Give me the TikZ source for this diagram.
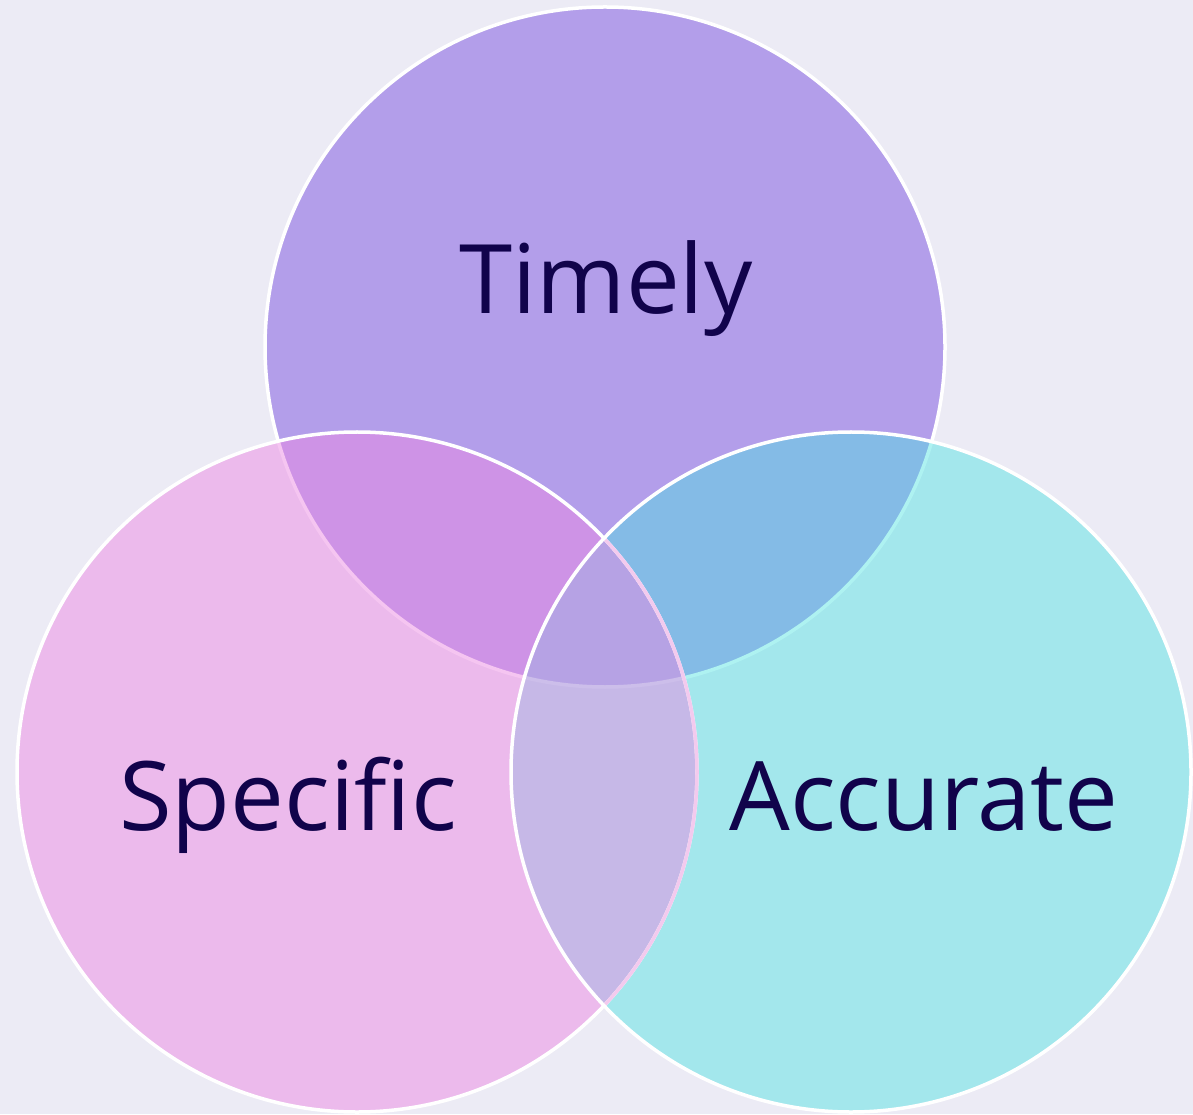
\documentclass[tikz,border=0pt]{standalone}
\usepackage{fontspec}
\setmainfont[Ligatures = NoCommon]{Open Sans}
\usepackage{tikz}
\definecolor{bgcol}{RGB}{236,235,245}
\definecolor{timelycol}{RGB}{179,158,234}
\definecolor{specificcol}{RGB}{236,137,227}
\definecolor{accuratecol}{RGB}{72,226,225}
\definecolor{labelcol}{RGB}{17,3,75}
\definecolor{faintline}{RGB}{243,202,238}
\tikzset{
	ring/.style = {draw = white, line width = 0.035cm},
	word/.style = {draw = none, anchor = base, text = labelcol, inner sep = 0pt, font = \fontsize{27.3}{33}\selectfont}
}

\begin{document}
\begin{tikzpicture}
		% Background
		\fill [bgcol] (0,0) rectangle (11.93,11.14);
		\useasboundingbox (0,0) rectangle (11.93,11.14);
		% Circle centres
		\coordinate (timelyc) at (6.05,7.67);
		\coordinate (specificc) at (3.57,3.42);
		\coordinate (accuratec) at (8.51,3.42);
		% Timely circle
		\draw [ring, fill = timelycol] (timelyc) circle (3.40);
		% Accurate circle
		\fill [accuratecol, fill opacity = 0.44] (accuratec) circle (3.40);
		% Specific circle
		\fill [specificcol, fill opacity = 0.49] (specificc) circle (3.40);
		\draw [ring] (specificc) circle (3.40);
		\begin{scope}
			\clip (accuratec) circle (3.40);
			\draw [ring, draw = faintline] (specificc) circle (3.40);
		\end{scope}
		% Accurate outline
		\draw [ring] (accuratec) circle (3.40);
		% Labels
		\node [word] (timely) at (6.06,8.00) {Timely};
		\node [word] (specific) at (2.88,2.84) {Specific};
		\node [word] (accurate) at (9.24,2.84) {Accurate};
\end{tikzpicture}
\end{document}
